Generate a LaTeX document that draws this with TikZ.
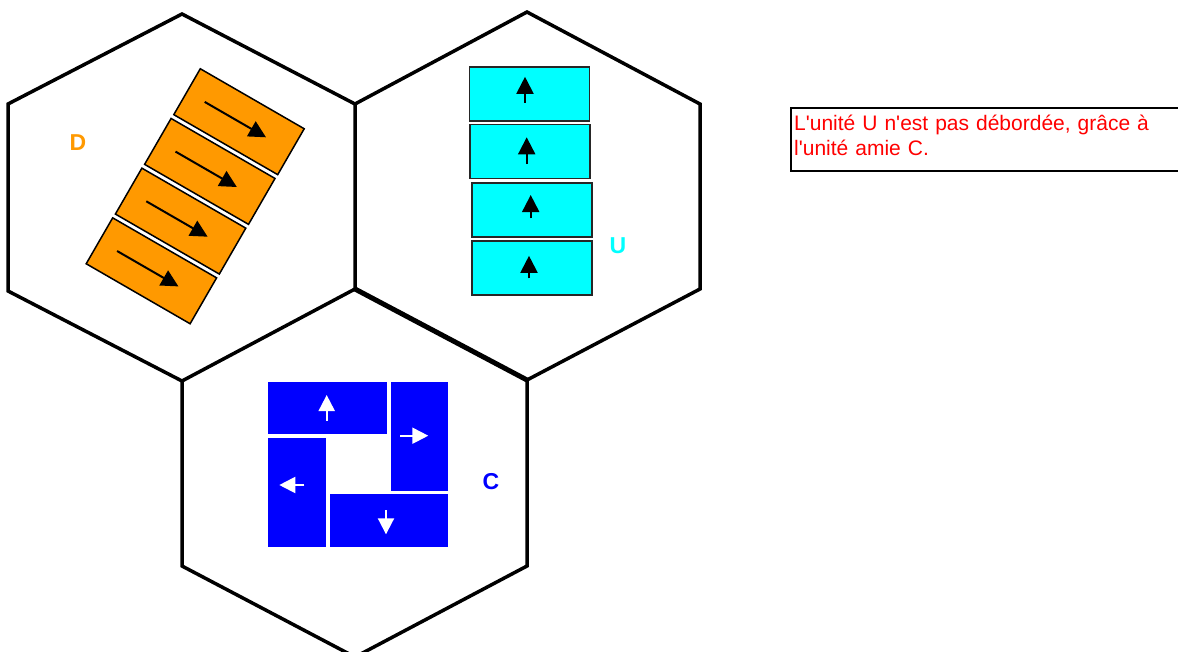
\documentclass[tikz,border=0pt]{standalone}
\usepackage{fontspec}
\setmainfont{Liberation Sans}
\usetikzlibrary{arrows.meta,calc}
\definecolor{dorange}{RGB}{255,153,0}
\definecolor{ucyan}{RGB}{0,255,255}
\definecolor{cblue}{RGB}{0,0,255}
\definecolor{tred}{RGB}{255,0,0}
\tikzset{
  hexside/.style={line width=3.5pt, line join=miter},
  obox/.style={draw=black, fill=dorange, line width=1.5pt, minimum width=120pt, minimum height=53pt, inner sep=0pt, outer sep=0pt},
  cbox/.style={draw=black!85, fill=ucyan, line width=1.5pt, minimum width=120pt, minimum height=54pt, inner sep=0pt, outer sep=0pt},
  bbox/.style={fill=cblue, inner sep=0pt, outer sep=0pt},
  karrow/.style={line width=2pt, -{Triangle[length=17pt,width=17pt]}},
  warrow/.style={draw=white, line width=2pt, -{Triangle[length=16pt,width=16pt]}},
  lab/.style={font=\bfseries\fontsize{23}{26}\selectfont, inner sep=0pt},
}
\begin{document}
\begin{tikzpicture}[x=1pt,y=-1pt]
\useasboundingbox (0,0) rectangle (1178,651);
% hexagons
\coordinate (dt) at (182,14);
\coordinate (dul) at (8,104);
\coordinate (dll) at (8,291);
\coordinate (db) at (182,381);
\coordinate (m1) at (355,104);
\coordinate (m2) at (355,289);
\coordinate (ut) at (527,12);
\coordinate (uur) at (700,104);
\coordinate (ulr) at (700,289);
\coordinate (ub) at (527,380);
\coordinate (cll) at (182,566);
\coordinate (clr) at (527,566);
\coordinate (cb) at (355,657);
\draw[hexside] (m1) -- (dt) -- (dul) -- (dll) -- (db) -- (m2) -- cycle;
\draw[hexside] (m1) -- (ut) -- (uur) -- (ulr) -- (ub) -- (m2);
\draw[hexside] (db) -- (cll) -- (cb) -- (clr) -- (ub);
\draw[line width=5pt] (m2) -- (ub);
% D units
\foreach \k/\cx/\cy in {1/239/121.7, 2/209.8/171.4, 3/180.6/221.1, 4/151.4/270.8}{
  \node[obox, rotate=-30] (d\k) at (\cx,\cy) {};
  \draw[karrow] ($(d\k.west)!0.17!(d\k.east)$) -- ($(d\k.west)!0.76!(d\k.east)$);
}
% U units
\node[cbox] (u1) at (529.7,93.8) {};
\node[cbox] (u2) at (530,151.7) {};
\node[cbox] (u3) at (532.2,210) {};
\node[cbox] (u4) at (532.2,267.8) {};
\draw[karrow] ($(u1.center)+(-4.7,9)$) -- ($(u1.center)+(-4.7,-17)$);
\draw[karrow] ($(u2.center)+(-3.3,12.3)$) -- ($(u2.center)+(-3.3,-14.4)$);
\draw[karrow] ($(u3.center)+(-1.5,8.3)$) -- ($(u3.center)+(-1.5,-15)$);
\draw[karrow] ($(u4.center)+(-3.2,10.5)$) -- ($(u4.center)+(-3.2,-12)$);
% C units
\node[bbox, minimum width=119pt, minimum height=52.6pt] (b1) at (327.8,408) {};
\node[bbox, minimum width=57.3pt, minimum height=109pt] (b2) at (419.7,436.2) {};
\node[bbox, minimum width=57.4pt, minimum height=109pt] (b3) at (297,492.8) {};
\node[bbox, minimum width=118.3pt, minimum height=53pt] (b4) at (389.2,520.8) {};
\draw[warrow] ($(b1.center)+(-1.1,12.7)$) -- ($(b1.center)+(-1.1,-13)$);
\draw[warrow] ($(b2.center)+(-19.7,-0.5)$) -- ($(b2.center)+(8.6,-0.5)$);
\draw[warrow] ($(b3.center)+(7.3,-7.8)$) -- ($(b3.center)+(-17.7,-7.8)$);
\draw[warrow] ($(b4.center)+(-3.2,-10.8)$) -- ($(b4.center)+(-3.2,13.5)$);
% labels
\node[lab, text=dorange] (ld) at (78,143) {D};
\node[lab, text=ucyan] (lu) at (618,246) {U};
\node[lab, text=cblue] (lc) at (491,482) {C};
% note
\node[draw=black, line width=1.5pt, anchor=north west, minimum width=392pt, minimum height=63pt,
      inner sep=0pt] (notebox) at (790,107) {};
\node[anchor=north west, text width=384pt, inner xsep=4pt, inner ysep=0pt, align=left, text=tred,
      font=\fontsize{21}{25}\selectfont] (note) at (790,114.5)
  {L\textquotesingle unité U n\textquotesingle est pas débordée, grâce à\\l\textquotesingle unité amie C.};
\end{tikzpicture}
\end{document}
